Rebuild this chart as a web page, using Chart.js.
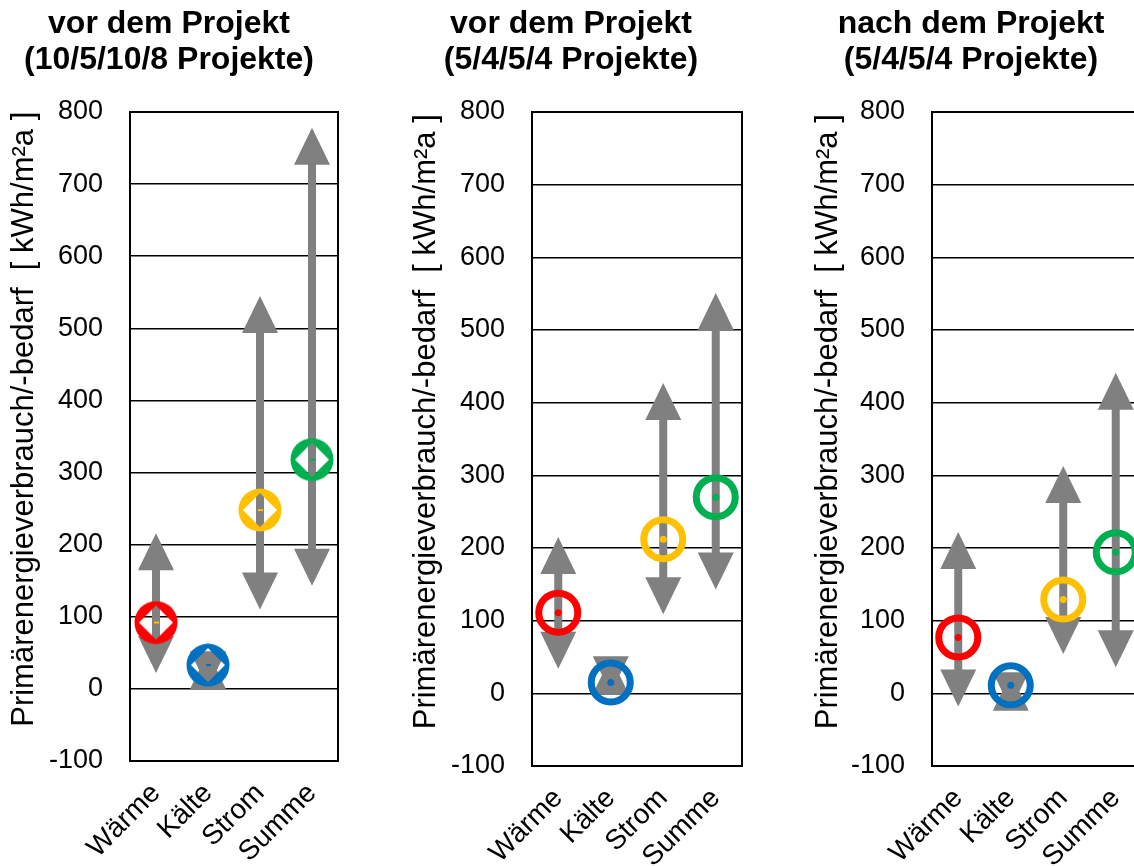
<!DOCTYPE html>
<html>
<head>
<meta charset="utf-8">
<script src="https://cdn.jsdelivr.net/npm/chart.js@4.4.1/dist/chart.umd.min.js"></script>
<style>
  html, body { margin: 0; padding: 0; background: #fff; overflow: hidden; }
  body { width: 1134px; height: 866px; position: relative; }
  .panel { position: absolute; top: 0; height: 866px; }
  #p1 { left: 0; width: 345px; }
  #p2 { left: 400px; width: 350px; }
  #p3 { left: 800px; width: 350px; }
</style>
</head>
<body>
<div class="panel" id="p1"><canvas id="c1"></canvas></div>
<div class="panel" id="p2"><canvas id="c2"></canvas></div>
<div class="panel" id="p3"><canvas id="c3"></canvas></div>
<script>
const categories = ["Wärme", "Kälte", "Strom", "Summe"];
const yTickLabels = [-100, 0, 100, 200, 300, 400, 500, 600, 700, 800];
const seriesColors = ["#FF0000", "#0070C0", "#FFC000", "#00B050"];
const centerColors1 = ["#FFC000", "#0070C0", "#FFC000", "#00B050"];

// vor dem Projekt (10/5/10/8 Projekte)
const before10Min = [22, 1, 110, 143];
const before10Max = [216, 51, 545, 778];
const before10Mean = [92, 33, 248, 318];

// vor dem Projekt (5/4/5/4 Projekte)
const before5Min = [34, 0, 109, 143];
const before5Max = [215, 50, 427, 551];
const before5Mean = [111, 15, 212, 270];

// nach dem Projekt (5/4/5/4 Projekte)
const after5Min = [-18, -22, 54, 36];
const after5Max = [222, 27, 313, 441];
const after5Mean = [77, 11, 129, 194];

const GRAY = "#808080";
const FONT = "'Liberation Sans', Arial, sans-serif";
// leading spaces nudge the rotated title up a little, like in the original
const Y_TITLE = "\u00A0\u00A0\u00A0\u00A0Primärenergieverbrauch/-bedarf  [ kWh/m²a ]";

// ring with a diamond shaped hole (first panel)
function diamondMarker(color, dot) {
  const c = document.createElement("canvas");
  c.width = 44; c.height = 44;
  const g = c.getContext("2d");
  g.fillStyle = color;
  g.beginPath();
  g.arc(22, 22, 21.5, 0, Math.PI * 2);
  g.fill();
  g.globalCompositeOperation = "destination-out";
  g.beginPath();
  g.moveTo(22, 5); g.lineTo(39, 22); g.lineTo(22, 39); g.lineTo(5, 22);
  g.closePath();
  g.fill();
  g.globalCompositeOperation = "source-over";
  g.fillStyle = dot;
  g.fillRect(20, 21, 5, 2);
  return c;
}

const arrowPlugin = {
  id: "arrows",
  beforeDatasetsDraw(chart, args, opts) {
    const { ctx, chartArea, scales: { x, y } } = chart;
    ctx.save();
    ctx.strokeStyle = "#000";
    ctx.lineWidth = 2;
    ctx.strokeRect(chartArea.left, chartArea.top, chartArea.width, chartArea.height);
    ctx.fillStyle = GRAY;
    const h = 37, w = 18;
    opts.lows.forEach((lo, i) => {
      const px = x.getPixelForValue(i);
      const top = y.getPixelForValue(opts.highs[i]);
      const bot = y.getPixelForValue(lo);
      if (bot - top > 2 * h) ctx.fillRect(px - 4, top + h - 1, 8, bot - top - 2 * h + 2);
      ctx.beginPath();
      ctx.moveTo(px, top); ctx.lineTo(px + w, top + h); ctx.lineTo(px - w, top + h);
      ctx.closePath(); ctx.fill();
      ctx.beginPath();
      ctx.moveTo(px, bot); ctx.lineTo(px + w, bot - h); ctx.lineTo(px - w, bot - h);
      ctx.closePath(); ctx.fill();
    });
    ctx.restore();
  }
};

function makeChart(id, cfg) {
  const datasets = [];
  if (cfg.diamond) {
    datasets.push({
      data: cfg.mean,
      showLine: false,
      pointStyle: categories.map((c, i) => diamondMarker(seriesColors[i], centerColors1[i])),
      pointRadius: 22
    });
  } else {
    datasets.push({
      data: cfg.mean,
      showLine: false,
      pointStyle: "circle",
      pointRadius: 19.5,
      pointBorderWidth: 7,
      pointBorderColor: seriesColors,
      pointBackgroundColor: "rgba(0,0,0,0)"
    });
    datasets.push({
      data: cfg.mean,
      showLine: false,
      pointStyle: "circle",
      pointRadius: 3.5,
      pointBorderWidth: 0,
      pointBackgroundColor: seriesColors
    });
  }
  return new Chart(document.getElementById(id), {
    type: "line",
    data: { labels: categories, datasets },
    plugins: [arrowPlugin],
    options: {
      responsive: true,
      maintainAspectRatio: false,
      animation: false,
      events: [],
      layout: { autoPadding: false, padding: { left: 0, right: cfg.padRight, top: 0, bottom: 0 } },
      plugins: {
        legend: { display: false },
        tooltip: { enabled: false },
        title: {
          display: true,
          text: cfg.title,
          color: "#000",
          font: { family: FONT, size: 32, weight: "bold", lineHeight: 1.1 },
          padding: { top: 7, bottom: 112 - 7 - 2 * 32 * 1.1 }
        },
        arrows: { lows: cfg.min, highs: cfg.max }
      },
      scales: {
        x: {
          offset: true,
          grid: { display: false, drawTicks: false },
          border: { display: false },
          ticks: {
            color: "#000",
            font: { family: FONT, size: 28 },
            minRotation: 45,
            maxRotation: 45,
            autoSkip: false,
            padding: 16
          },
          afterFit: (s) => {
            s.height = cfg.xHeight;
            s.paddingLeft = 0;
            s.paddingRight = 0;
          }
        },
        y: {
          min: yTickLabels[0],
          max: yTickLabels[yTickLabels.length - 1],
          afterBuildTicks: (s) => { s.ticks = yTickLabels.map(v => ({ value: v })); },
          grid: { color: "#000", lineWidth: 1.5, drawTicks: false },
          border: { display: false },
          ticks: {
            color: "#000",
            font: { family: FONT, size: 27 },
            padding: 27
          },
          title: {
            display: true,
            text: Y_TITLE,
            color: "#000",
            font: { family: FONT, size: 31 },
            padding: { top: cfg.titlePad, bottom: 0 }
          },
          afterFit: (s) => {
            s.width = cfg.yWidth;
            s.paddingTop = 0;
            s.paddingBottom = 0;
          }
        }
      }
    }
  });
}

makeChart("c1", {
  title: ["vor dem Projekt", "(10/5/10/8 Projekte)"],
  min: before10Min, max: before10Max, mean: before10Mean,
  diamond: true, yWidth: 130, xHeight: 105, padRight: 7, titlePad: 6
});
makeChart("c2", {
  title: ["vor dem Projekt", "(5/4/5/4 Projekte)"],
  min: before5Min, max: before5Max, mean: before5Mean,
  diamond: false, yWidth: 132, xHeight: 100, padRight: 8, titlePad: 8
});
makeChart("c3", {
  title: ["nach dem Projekt", "(5/4/5/4 Projekte)"],
  min: after5Min, max: after5Max, mean: after5Mean,
  diamond: false, yWidth: 132, xHeight: 100, padRight: 8, titlePad: 10
});
</script>
</body>
</html>
